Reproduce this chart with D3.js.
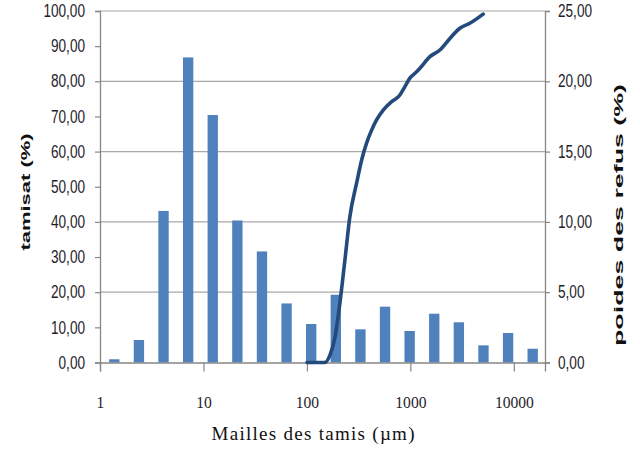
<!DOCTYPE html>
<html><head><meta charset="utf-8">
<script src="https://cdn.jsdelivr.net/npm/d3@7"></script>
<style>body{margin:0;background:#fff}svg{display:block}</style>
</head><body><svg id="c" width="640" height="449"></svg>
<script>
// Bars: poids des refus (%) per sieve class (right axis)
const barClasses = ["1","2","3","4","5","6","7","8","9","10","11","12","13","14","15","16","17","18"];
const poidsRefus = [0.23, 1.6, 10.78, 21.7, 17.6, 10.1, 7.9, 4.2, 2.74, 4.82, 2.36, 3.97, 2.24, 3.47, 2.86, 1.22, 2.1, 0.98];
// Curve: tamisat (%) vs mailles des tamis (µm) (left axis, log x)
const mailles = [100, 149, 167, 187, 208, 233, 260, 302, 338, 377, 422, 471, 546, 658, 792, 885, 988, 1148, 1236, 1543, 1927, 2408, 3006, 3756, 5050];
const tamisat = [0, 0, 2.1, 7.3, 16.8, 29.2, 41.5, 51.0, 57.6, 62.4, 66.1, 69.0, 71.8, 74.2, 76.1, 78.5, 80.9, 82.7, 83.7, 87.0, 88.9, 92.2, 95.1, 96.5, 99.1];
const leftTicks = [0,10,20,30,40,50,60,70,80,90,100];
const gridTicks = [20,40,60,80,100];
const rightTicks = [0,5,10,15,20,25];
const xTicks = [1,10,100,1000,10000];

const svg = d3.select("#c");
const L = 100, R = 545, T = 11, B = 362.5;
const axisCol = "#868686";
const txtCol = "#1e1e2a";

const x = d3.scaleLog().domain([1, 20000]).range([L, R]);
const xb = d3.scaleBand().domain(barClasses).range([102, R]).paddingInner(0.58).paddingOuter(0.29);
const yL = d3.scaleLinear().domain([0, 100]).range([B, T]);
const yR = d3.scaleLinear().domain([0, 25]).range([B, T]);
const fmt = d => d.toFixed(2).replace(".", ",");

// gridlines
svg.append("g").selectAll("line").data(gridTicks).join("line")
  .attr("x1", L).attr("x2", R).attr("y1", d => yL(d)).attr("y2", d => yL(d))
  .attr("stroke", "#a8a8a8").attr("stroke-width", 1.2);

// bars
svg.append("g").selectAll("rect").data(poidsRefus).join("rect")
  .attr("x", (d, i) => xb(barClasses[i])).attr("width", xb.bandwidth())
  .attr("y", d => yR(d)).attr("height", d => B - yR(d))
  .attr("fill", "#4F81BD");

function styleAxis(g){
  g.select(".domain").attr("stroke", axisCol).attr("stroke-width", 1.3);
  g.selectAll(".tick line").attr("stroke", axisCol).attr("stroke-width", 1.2);
  g.selectAll("text").attr("fill", txtCol);
}

// left axis
const gl = svg.append("g").attr("transform", `translate(${L},0)`)
  .call(d3.axisLeft(yL).tickValues(leftTicks).tickSize(5).tickPadding(10).tickFormat(fmt));
styleAxis(gl);
gl.selectAll("text").attr("font-family", "Liberation Sans, Arial, sans-serif").attr("font-size", 13.6)
  .attr("transform", "scale(1,1.3)");

// right axis
const gr = svg.append("g").attr("transform", `translate(${R},0)`)
  .call(d3.axisRight(yR).tickValues(rightTicks).tickSize(5).tickPadding(8).tickFormat(fmt));
styleAxis(gr);
gr.selectAll("text").attr("font-family", "Liberation Sans, Arial, sans-serif").attr("font-size", 13.6)
  .attr("transform", "scale(1,1.3)");

// bottom axis
const gb = svg.append("g").attr("transform", `translate(0,${B})`)
  .call(d3.axisBottom(x).tickValues(xTicks).tickSize(9).tickFormat(d3.format("d")));
styleAxis(gb);
gb.selectAll("text").attr("font-family", "Liberation Serif, Times New Roman, serif").attr("font-size", 15.6)
  .attr("dy", null).attr("y", 41.5).attr("transform", "scale(1,1.1)");

// curve
const line = d3.line().x(d => x(d[0])).y(d => yL(d[1])).curve(d3.curveMonotoneX);
svg.append("path").datum(mailles.map((m, i) => [m, tamisat[i]]))
  .attr("d", line).attr("fill", "none").attr("stroke", "#234a7b")
  .attr("stroke-width", 3.6).attr("stroke-linecap", "round").attr("stroke-linejoin", "round");

// titles
svg.append("text").attr("transform", "translate(25,192) rotate(-90)")
  .attr("text-anchor", "middle").attr("dominant-baseline", "central")
  .attr("font-family", "Liberation Sans, Arial, sans-serif").attr("font-weight", "bold").attr("font-size", 13)
  .attr("textLength", 117).attr("lengthAdjust", "spacingAndGlyphs").attr("fill", "#111")
  .text("tamisat (%)");
svg.append("text").attr("transform", "translate(619,215) rotate(-90)")
  .attr("text-anchor", "middle").attr("dominant-baseline", "central")
  .attr("font-family", "Liberation Sans, Arial, sans-serif").attr("font-weight", "bold").attr("font-size", 12)
  .attr("textLength", 262).attr("lengthAdjust", "spacingAndGlyphs").attr("fill", "#111")
  .text("poides des refus (%)");
svg.append("text").attr("x", 313).attr("y", 440).attr("text-anchor", "middle")
  .attr("font-family", "Liberation Serif, Times New Roman, serif").attr("font-size", 19).attr("fill", "#111")
  .attr("textLength", 203).attr("lengthAdjust", "spacing")
  .text("Mailles des tamis (µm)");
</script></body></html>
